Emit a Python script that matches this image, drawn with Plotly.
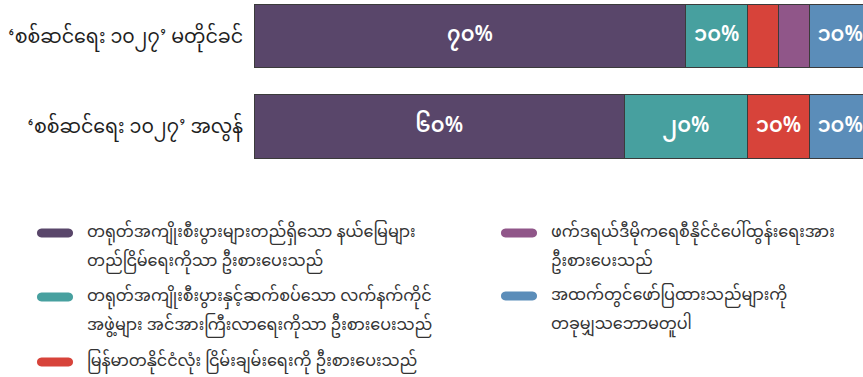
import plotly.graph_objects as go

# Survey responses, two periods (percent of respondents)
categories = ["‘စစ်ဆင်ရေး ၁၀၂၇’ မတိုင်ခင်", "‘စစ်ဆင်ရေး ၁၀၂၇’ အလွန်"]

series_names = [
    ["တရုတ်အကျိုးစီးပွားများတည်ရှိသော နယ်မြေများ", "တည်ငြိမ်ရေးကိုသာ ဦးစားပေးသည်"],
    ["တရုတ်အကျိုးစီးပွားနှင့်ဆက်စပ်သော လက်နက်ကိုင်", "အဖွဲ့များ အင်အားကြီးလာရေးကိုသာ ဦးစားပေးသည်"],
    ["မြန်မာတနိုင်ငံလုံး ငြိမ်းချမ်းရေးကို ဦးစားပေးသည်"],
    ["ဖက်ဒရယ်ဒီမိုကရေစီနိုင်ငံပေါ်ထွန်းရေးအား", "ဦးစားပေးသည်"],
    ["အထက်တွင်ဖော်ပြထားသည်များကို", "တခုမျှသဘောမတူပါ"],
]

stability_only = [70, 60]
armed_groups = [10, 20]
nationwide_peace = [5, 10]
federal_democracy = [5, 0]
none_of_above = [10, 10]

series_values = [stability_only, armed_groups, nationwide_peace, federal_democracy, none_of_above]
series_colors = ["#59466a", "#47a09f", "#d7433a", "#905689", "#5b8db9"]

MM_DIGITS = str.maketrans("0123456789", "၀၁၂၃၄၅၆၇၈၉")
FONT = "Noto Sans Myanmar, Padauk, Myanmar Text, Noto Sans, sans-serif"


def pct_label(v):
    return (str(v) + "%").translate(MM_DIGITS) if v >= 10 else ""


W, H = 863, 377
PLOT_LEFT = 254
PX_PER_UNIT = 90.5          # vertical pixels between the two bars
FIRST_BAR_Y = 36            # pixel centre of the first bar
y_top = -FIRST_BAR_Y / PX_PER_UNIT
y_bottom = y_top + H / PX_PER_UNIT

fig = go.Figure()
for name, vals, col in zip(series_names, series_values, series_colors):
    fig.add_trace(go.Bar(
        y=[0, 1], x=vals, orientation="h",
        name=" ".join(name),
        marker=dict(color=col, line=dict(color="#3b3b3b", width=1)),
        width=0.705,
        text=[pct_label(v) for v in vals],
        textposition="inside", insidetextanchor="middle", textangle=0,
        textfont=dict(color="white", size=21, family=FONT, weight=600),
        showlegend=False, hoverinfo="skip",
    ))

fig.update_layout(
    width=W, height=H, barmode="stack",
    margin=dict(l=PLOT_LEFT, r=0, t=0, b=0),
    plot_bgcolor="white", paper_bgcolor="white",
    font=dict(family=FONT, color="#333333"),
    xaxis=dict(range=[0, 98.7], visible=False, fixedrange=True),
    yaxis=dict(range=[y_bottom, y_top], tickvals=[0, 1], ticktext=categories,
               showgrid=False, zeroline=False, showline=False, ticks="",
               ticklabelstandoff=10, tickfont=dict(size=19, color="#1e1e1e")),
)


# Custom legend: rounded pill markers with wrapped two-line labels
def pill(x0, yc, w=36, h=9):
    r = h / 2
    k = r * 0.35
    return (f"M{x0 + r},{yc - r} L{x0 + w - r},{yc - r} "
            f"C{x0 + w + k},{yc - r} {x0 + w + k},{yc + r} {x0 + w - r},{yc + r} "
            f"L{x0 + r},{yc + r} "
            f"C{x0 - k},{yc + r} {x0 - k},{yc - r} {x0 + r},{yc - r} Z")


legend_pos = [(37, 233), (37, 297), (37, 362), (501, 233), (501, 296)]
LINE_GAP = 29.5
shapes = []
annotations = []
for (px, py), lines, col in zip(legend_pos, series_names, series_colors):
    shapes.append(dict(type="path", xref="paper", yref="paper",
                       xsizemode="pixel", ysizemode="pixel",
                       xanchor=0, yanchor=1, path=pill(px - PLOT_LEFT, -py),
                       fillcolor=col, line=dict(width=0)))
    for i, ln in enumerate(lines):
        ypix = py + i * LINE_GAP
        annotations.append(dict(
            text=ln, xref="paper", yref="paper",
            x=(px + 48 - PLOT_LEFT) / (W - PLOT_LEFT), y=1 - ypix / H,
            xanchor="left", yanchor="middle", showarrow=False,
            font=dict(size=16, color="#333333", family=FONT),
        ))

fig.update_layout(shapes=shapes, annotations=annotations)
fig.write_html("out.html")
